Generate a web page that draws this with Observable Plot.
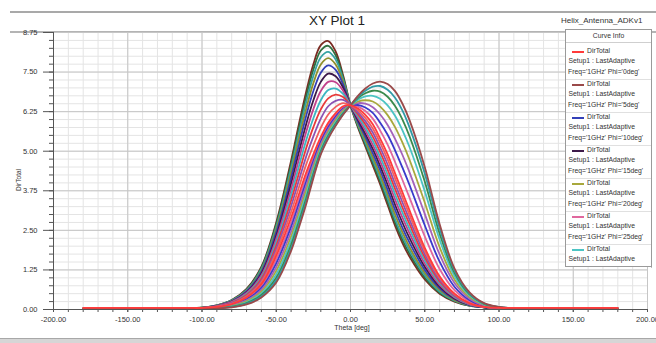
<!DOCTYPE html>
<html><head><meta charset="utf-8">
<script src="https://cdn.jsdelivr.net/npm/d3@7"></script>
<script src="https://cdn.jsdelivr.net/npm/@observablehq/plot@0.6"></script>
<style>
body{margin:0;background:#fff;font-family:"Liberation Sans",Arial,sans-serif;}
#wrap{position:relative;width:656px;height:343px;overflow:hidden;background:#fff;}
#wrap svg{position:absolute;left:0;top:0;}
.abs{position:absolute;white-space:nowrap;line-height:1;}
</style></head><body><div id="wrap"></div>
<script>
// Theta sample positions (deg)
const thetaDeg = [-180,-140,-110,-100,-90,-80,-70,-60,-50,-40,-35,-30,-25,-20,-15,-10,-5,0,5,10,15,20,25,30,35,40,50,60,70,80,90,100,110,140,180];

// Phi of each curve (deg)
const phiDeg = [40,45,50,55,10,15,60,65,70,75,80,0,25,85,90,20,30,95,100,5];

// DirTotal per curve, one row per phi, one value per theta
const dirTotal = [
 [0.03,0.03,0.04,0.06,0.13,0.30,0.65,1.35,2.75,4.70,5.80,6.85,7.75,8.35,8.48,8.15,7.40,6.45,5.75,5.15,4.55,3.95,3.30,2.65,2.10,1.65,0.95,0.50,0.25,0.12,0.07,0.05,0.04,0.03,0.03],
 [0.03,0.03,0.04,0.06,0.13,0.29,0.63,1.32,2.69,4.59,5.67,6.70,7.58,8.18,8.33,8.03,7.34,6.45,5.79,5.21,4.63,4.04,3.40,2.75,2.20,1.74,1.01,0.53,0.27,0.12,0.07,0.05,0.04,0.03,0.03],
 [0.03,0.03,0.04,0.06,0.12,0.28,0.61,1.28,2.61,4.47,5.51,6.52,7.38,7.97,8.14,7.90,7.27,6.45,5.83,5.28,4.72,4.14,3.51,2.86,2.31,1.84,1.08,0.57,0.28,0.13,0.07,0.05,0.04,0.03,0.03],
 [0.03,0.03,0.04,0.06,0.12,0.27,0.59,1.23,2.53,4.32,5.34,6.31,7.15,7.74,7.94,7.74,7.19,6.45,5.88,5.36,4.82,4.25,3.64,3.00,2.44,1.95,1.16,0.62,0.30,0.14,0.07,0.05,0.04,0.03,0.03],
 [0.03,0.03,0.04,0.05,0.12,0.26,0.57,1.19,2.44,4.16,5.14,6.09,6.90,7.48,7.71,7.57,7.11,6.45,5.93,5.45,4.94,4.39,3.78,3.15,2.58,2.09,1.25,0.67,0.33,0.14,0.07,0.05,0.04,0.03,0.03],
 [0.03,0.03,0.04,0.05,0.11,0.25,0.54,1.13,2.33,3.98,4.92,5.83,6.61,7.19,7.45,7.37,7.01,6.45,5.99,5.55,5.07,4.53,3.94,3.31,2.74,2.23,1.35,0.72,0.35,0.15,0.07,0.05,0.04,0.03,0.03],
 [0.03,0.03,0.04,0.05,0.11,0.24,0.52,1.08,2.23,3.80,4.70,5.58,6.33,6.90,7.19,7.18,6.91,6.45,6.05,5.65,5.20,4.68,4.10,3.48,2.90,2.38,1.45,0.78,0.38,0.16,0.08,0.05,0.04,0.03,0.03],
 [0.03,0.03,0.04,0.05,0.10,0.22,0.49,1.02,2.12,3.62,4.48,5.32,6.04,6.61,6.93,6.98,6.81,6.45,6.11,5.75,5.33,4.82,4.26,3.64,3.06,2.52,1.55,0.83,0.40,0.17,0.08,0.04,0.04,0.03,0.03],
 [0.03,0.03,0.04,0.05,0.10,0.21,0.46,0.97,2.02,3.44,4.26,5.07,5.76,6.32,6.67,6.79,6.71,6.45,6.17,5.85,5.46,4.97,4.42,3.81,3.22,2.67,1.65,0.89,0.43,0.18,0.08,0.04,0.04,0.03,0.03],
 [0.03,0.03,0.04,0.04,0.09,0.20,0.43,0.91,1.91,3.26,4.04,4.81,5.47,6.03,6.42,6.59,6.62,6.45,6.23,5.95,5.59,5.11,4.58,3.97,3.38,2.81,1.75,0.94,0.45,0.18,0.08,0.04,0.04,0.03,0.03],
 [0.03,0.03,0.04,0.04,0.09,0.18,0.41,0.86,1.81,3.08,3.82,4.56,5.18,5.74,6.16,6.40,6.52,6.45,6.29,6.05,5.72,5.26,4.74,4.14,3.54,2.96,1.85,1.00,0.48,0.19,0.08,0.04,0.03,0.03,0.03],
 [0.05,0.05,0.05,0.05,0.08,0.17,0.38,0.80,1.70,2.90,3.60,4.30,4.90,5.45,5.90,6.20,6.42,6.45,6.35,6.15,5.85,5.40,4.90,4.30,3.70,3.10,1.95,1.05,0.50,0.20,0.08,0.05,0.05,0.05,0.05],
 [0.03,0.03,0.03,0.04,0.07,0.16,0.35,0.74,1.58,2.75,3.45,4.16,4.80,5.37,5.83,6.14,6.38,6.45,6.41,6.27,6.03,5.65,5.21,4.66,4.09,3.50,2.31,1.28,0.61,0.25,0.10,0.05,0.03,0.03,0.03],
 [0.03,0.03,0.03,0.04,0.07,0.14,0.32,0.68,1.46,2.61,3.31,4.02,4.69,5.30,5.76,6.09,6.34,6.45,6.46,6.38,6.21,5.90,5.52,5.03,4.48,3.90,2.66,1.51,0.72,0.30,0.11,0.05,0.03,0.03,0.03],
 [0.03,0.03,0.03,0.04,0.06,0.13,0.29,0.62,1.34,2.46,3.16,3.88,4.59,5.22,5.69,6.03,6.31,6.45,6.52,6.50,6.39,6.16,5.83,5.39,4.88,4.30,3.02,1.74,0.84,0.35,0.13,0.06,0.03,0.03,0.03],
 [0.03,0.03,0.03,0.03,0.06,0.11,0.26,0.56,1.22,2.31,3.01,3.74,4.48,5.14,5.62,5.98,6.27,6.45,6.57,6.61,6.57,6.41,6.14,5.76,5.27,4.70,3.38,1.97,0.95,0.40,0.15,0.06,0.03,0.03,0.03],
 [0.03,0.03,0.03,0.03,0.05,0.10,0.23,0.51,1.11,2.17,2.87,3.60,4.38,5.07,5.55,5.92,6.23,6.45,6.63,6.73,6.75,6.66,6.45,6.12,5.66,5.10,3.74,2.21,1.06,0.45,0.16,0.07,0.04,0.03,0.03],
 [0.03,0.03,0.03,0.03,0.05,0.09,0.20,0.46,1.00,2.04,2.74,3.48,4.29,5.00,5.49,5.87,6.20,6.45,6.68,6.83,6.91,6.88,6.72,6.43,6.00,5.44,4.04,2.40,1.16,0.49,0.18,0.07,0.04,0.03,0.03],
 [0.03,0.03,0.03,0.03,0.04,0.08,0.18,0.41,0.92,1.93,2.63,3.38,4.21,4.94,5.44,5.83,6.17,6.45,6.72,6.91,7.04,7.06,6.94,6.69,6.28,5.72,4.30,2.57,1.24,0.52,0.19,0.08,0.04,0.03,0.03],
 [0.03,0.03,0.03,0.03,0.04,0.07,0.16,0.38,0.85,1.85,2.55,3.30,4.15,4.90,5.40,5.80,6.15,6.45,6.75,6.98,7.14,7.20,7.12,6.90,6.50,5.95,4.50,2.70,1.30,0.55,0.20,0.08,0.04,0.03,0.03]
];

// Axis tick values
const xTicks = [-200,-150,-100,-50,0,50,100,150,200];
const yTicks = [0,1.25,2.5,3.75,5,6.25,7.5,8.75];

// Legend entries (phi shown in Curve Info)
const legendPhi = [0,5,10,15,20,25,30];

// Line palette (style), one per curve in the same order as phiDeg
const palette = ["#7a2b22","#2f7040","#36a3a3","#8f8f2c","#3340b8","#3d1a4a","#c2408c","#3cb6c2","#e83a3a","#8b52b3",
                 "#f06060","#ff3b3b","#e0689e","#3a3acb","#a462ba","#a8a83c","#4cc4c4","#3a8a4c","#2f9aa6","#9a4a4a"];

// draw order: phi = 0 (red) last, on top
const order = d3.range(phiDeg.length).sort((a, b) => (phiDeg[a] === 0) - (phiDeg[b] === 0));
const rows = [];
order.forEach(i => dirTotal[i].forEach((v, j) => rows.push({phi: phiDeg[i], theta: thetaDeg[j], v})));

const minorX = d3.range(-200, 201, 10);
const minorY = d3.range(0, 8.751, 0.25);

const wrap = document.getElementById("wrap");

function add(parent, text, css) {
  const d = document.createElement("div");
  d.className = "abs";
  if (text != null) d.textContent = text;
  Object.assign(d.style, css);
  parent.appendChild(d);
  return d;
}
// frame lines (behind the chart)
add(wrap, null, {left: "10px", top: "11px", width: "646px", height: "2px", background: "#a9a9a9"});
add(wrap, null, {left: "10px", top: "31px", width: "646px", height: "1.5px", background: "#b4b4b4"});

const chart = Plot.plot({
  width: 656, height: 343,
  marginLeft: 53, marginRight: 9, marginTop: 32, marginBottom: 34,
  x: {domain: [-200, 200]},
  y: {domain: [0, 8.75]},
  color: {domain: phiDeg, range: palette},
  style: {background: "transparent", fontFamily: "'Liberation Sans', Arial, sans-serif", fontSize: "7.5px", color: "#333", overflow: "visible"},
  marks: [
    Plot.ruleX(minorX, {stroke: "#e4e4e4", strokeWidth: 1}),
    Plot.ruleY(minorY, {stroke: "#e4e4e4", strokeWidth: 1}),
    Plot.ruleX(xTicks, {stroke: "#c6c6c6", strokeWidth: 1}),
    Plot.ruleY(yTicks, {stroke: "#c6c6c6", strokeWidth: 1}),
    Plot.line(rows, {x: "theta", y: "v", z: "phi", stroke: "phi", strokeWidth: 1.8, curve: "catmull-rom"}),
    Plot.axisY({ticks: minorY, tickSize: 4, tickFormat: () => "", label: null, stroke: "#555"}),
    Plot.axisY({ticks: yTicks, tickSize: 10, tickPadding: 6, tickFormat: d => d.toFixed(2), label: null, stroke: "#555"}),
    Plot.axisX({ticks: minorX, tickSize: 3, tickFormat: () => "", label: null, stroke: "#555"}),
    Plot.axisX({ticks: xTicks, tickSize: 3, tickPadding: 4, tickFormat: d => d.toFixed(2), label: null, stroke: "#555"}),
    Plot.ruleX([-200], {stroke: "#555"}),
    Plot.ruleY([0], {stroke: "#555"})
  ]
});
wrap.appendChild(chart);

add(wrap, null, {left: "0px", top: "338px", width: "656px", height: "5px", background: "#d6d6d6", borderTop: "1px solid #a8a8a8"});
// title texts
add(wrap, "XY Plot 1", {left: "337px", top: "14px", transform: "translateX(-50%)", fontSize: "13.5px", color: "#222"});
add(wrap, "Helix_Antenna_ADKv1", {left: "561px", top: "17px", fontSize: "8px", color: "#333"});
// axis titles
add(wrap, "DirTotal", {left: "19px", top: "180px", transform: "translate(-50%,-50%) rotate(-90deg)", fontSize: "6.5px", color: "#333"});
add(wrap, "Theta [deg]", {left: "352px", top: "324px", transform: "translateX(-50%)", fontSize: "7px", color: "#333"});
// right scroll line
add(wrap, null, {left: "651px", top: "30px", width: "1px", height: "238px", background: "#bdbdbd"});

// legend box
const colorOf = phi => palette[phiDeg.indexOf(phi)];
const boxH = 236;
const box = add(wrap, null, {left: "565px", top: "29px", width: "85px", height: boxH + "px", border: "1px solid #9a9a9a", background: "#fff", overflow: "hidden"});
add(box, "Curve Info", {left: "0", width: "85px", textAlign: "center", top: "3px", fontSize: "6.8px", color: "#333"});
add(box, null, {left: "0", top: "12px", width: "85px", height: "1px", background: "#cfcfcf"});
legendPhi.forEach((phi, i) => {
  const y0 = 17.5 + 33 * i;
  const lines = [["DirTotal", 21, 0], ["Setup1 : LastAdaptive", 2.5, 10.5], ["Freq='1GHz' Phi='" + phi + "deg'", 2, 21]];
  add(box, null, {left: "6px", top: (y0 + 3) + "px", width: "12px", height: "2px", background: colorOf(phi)});
  lines.forEach(([t, x, dy]) => {
    if (y0 + dy + 7 <= boxH) add(box, t, {left: x + "px", top: (y0 + dy) + "px", fontSize: "6.8px", color: "#333"});
  });
  if (y0 + 31 < boxH) add(box, null, {left: "0", top: (y0 + 31) + "px", width: "85px", height: "1px", background: "#e0e0e0"});
});
</script></body></html>
